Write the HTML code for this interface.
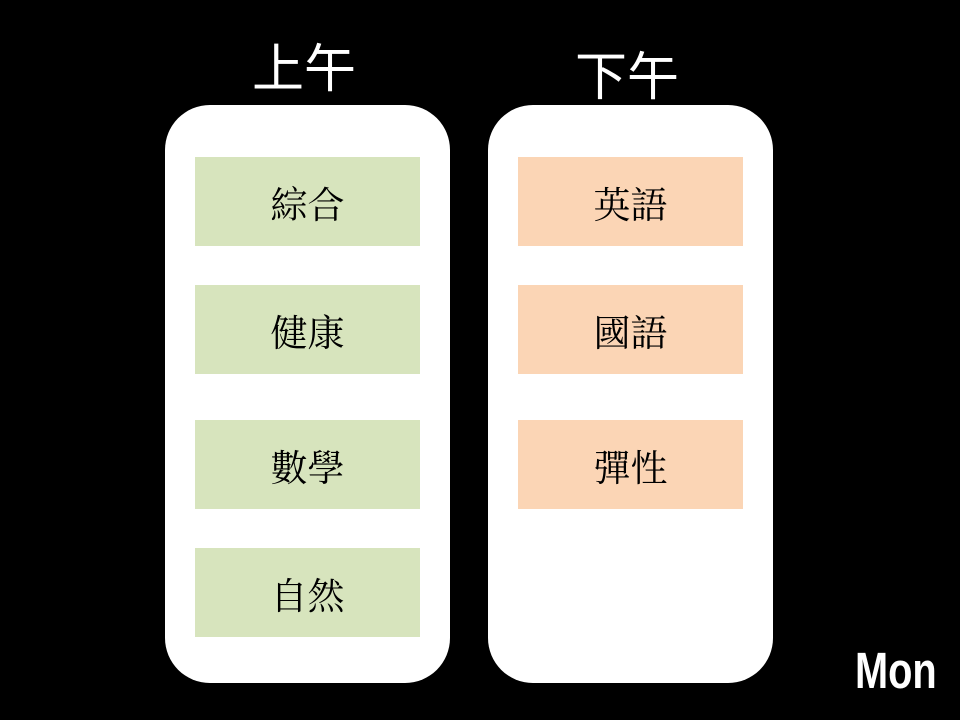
<!DOCTYPE html>
<html><head><meta charset="utf-8"><style>
body{margin:0;width:960px;height:720px;background:#000;position:relative;overflow:hidden;font-family:"Liberation Sans","Noto Sans CJK TC",sans-serif}
.t{position:absolute;color:#fff;font-size:52px;font-weight:normal;line-height:1;white-space:nowrap}
.col{position:absolute;background:#fff;border-radius:45px;top:105px;width:285px;height:578px}
.b{position:absolute;width:225px;height:89px;display:flex;align-items:center;justify-content:center;font-size:37px;font-family:"Liberation Serif","Noto Serif CJK SC",serif;color:#000}
.g{background:#d7e4bd;left:195px}
.o{background:#fbd5b5;left:518px}
</style></head><body>
<div class="t" style="left:252px;top:44px">上午</div>
<div class="t" style="left:575px;top:52px">下午</div>
<div class="col" style="left:165px"></div>
<div class="col" style="left:488px"></div>
<div class="b g" style="top:157px">綜合</div>
<div class="b g" style="top:285px">健康</div>
<div class="b g" style="top:420px">數學</div>
<div class="b g" style="top:548px">自然</div>
<div class="b o" style="top:157px">英語</div>
<div class="b o" style="top:285px">國語</div>
<div class="b o" style="top:420px">彈性</div>
<div style="position:absolute;left:855px;top:645px;color:#fff;font-weight:bold;font-size:51px;line-height:1;transform:scaleX(0.78);transform-origin:left top;font-family:'Liberation Sans',sans-serif">Mon</div>
</body></html>
